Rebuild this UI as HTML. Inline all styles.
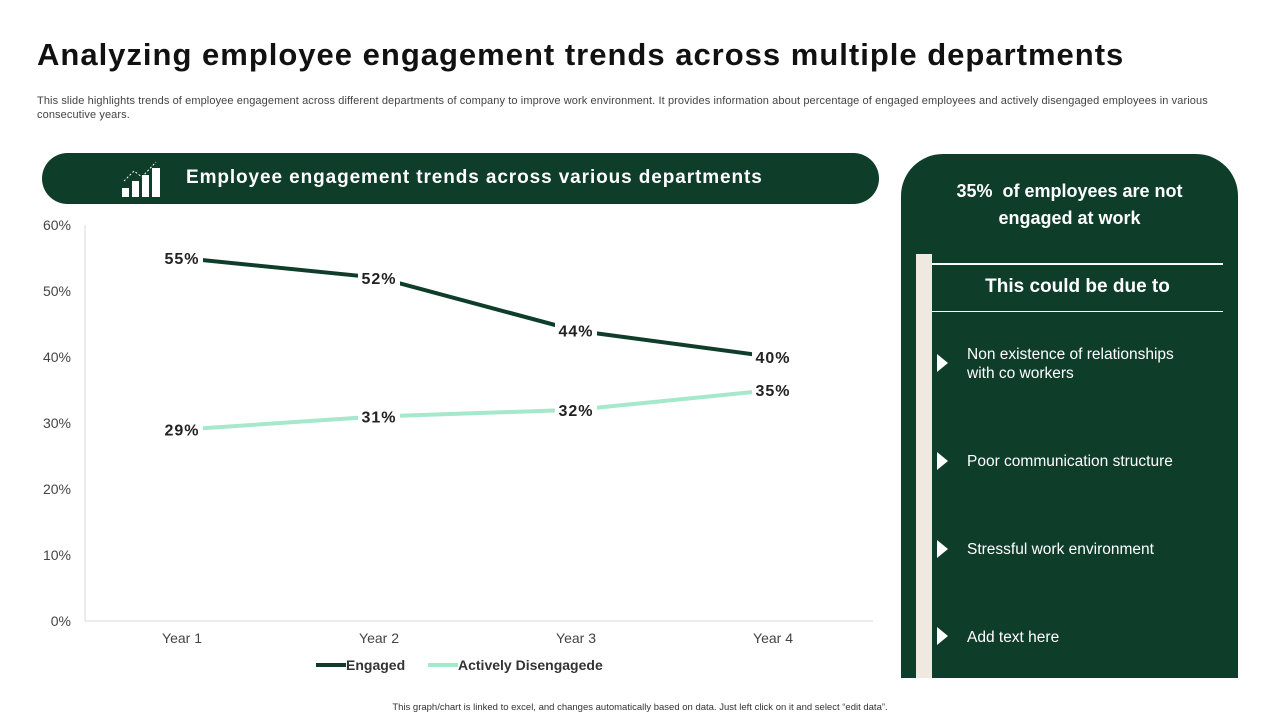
<!DOCTYPE html>
<html><head><meta charset="utf-8"><style>
body{margin:0;width:1280px;height:720px;background:#fff;font-family:"Liberation Sans",sans-serif;position:relative;overflow:hidden}
.abs{position:absolute}
h1{position:absolute;left:37px;top:37px;margin:0;font-size:31px;font-weight:bold;color:#111;letter-spacing:1.0px}
.sub{left:37px;top:94px;width:1225px;font-size:11px;color:#444;line-height:14px;letter-spacing:0.1px}
.hdr{left:42px;top:153px;width:837px;height:51px;background:#0e3d29;border-radius:26px}
.hdr span{position:absolute;left:144px;top:14px;color:#fff;font-size:19px;font-weight:bold;letter-spacing:0.9px}
.panel{left:901px;top:154px;width:337px;height:524px;background:#0e3d29;border-radius:42px 42px 0 0}
.item{position:absolute;left:66px;color:#fff;font-size:15.5px;line-height:19px}
.tri{position:absolute;left:36px;width:0;height:0;border-top:9px solid transparent;border-bottom:9px solid transparent;border-left:11px solid #fff}
</style></head><body>
<h1>Analyzing employee engagement trends across multiple departments</h1>
<div class="abs sub">This slide highlights trends of employee engagement across different departments of company to improve work environment. It provides information about percentage of engaged employees and actively disengaged employees in various consecutive years.</div>
<div class="abs hdr">
<svg class="abs" style="left:78px;top:6px" width="46" height="40">
<rect x="2" y="29" width="7" height="9" fill="#fff"/><rect x="12" y="22" width="7" height="16" fill="#fff"/><rect x="22" y="16" width="7" height="22" fill="#fff"/><rect x="32" y="9" width="8" height="29" fill="#fff"/>
<polyline points="4,22 14,12 22,18 36,3" fill="none" stroke="#fff" stroke-width="1" stroke-dasharray="2,2"/></svg>
<span>Employee engagement trends across various departments</span></div>
<svg id="chart" class="abs" style="left:0;top:0" width="900" height="700"></svg>
<div class="abs panel">
<div class="abs" style="left:0;top:24px;width:337px;text-align:center;color:#fff;font-size:18px;font-weight:bold;line-height:27px">35%&nbsp; of employees are not<br>engaged at work</div>
<div class="abs" style="left:15px;top:100px;width:16px;height:424px;background:#efe9e1"></div>
<div class="abs" style="left:31px;top:109px;width:291px;height:2px;background:#fff"></div>
<div class="abs" style="left:31px;top:122px;width:291px;text-align:center;color:#fff;font-size:19px;font-weight:bold">This could be due to</div>
<div class="abs" style="left:31px;top:157px;width:291px;height:1px;background:#fff"></div>
<div class="tri" style="top:200px"></div><div class="item" style="top:191px">Non existence of relationships<br>with co workers</div>
<div class="tri" style="top:298px"></div><div class="item" style="top:298px">Poor communication structure</div>
<div class="tri" style="top:386px"></div><div class="item" style="top:386px">Stressful work environment</div>
<div class="tri" style="top:473px"></div><div class="item" style="top:474px">Add text here</div>
</div>
<div class="abs" style="left:0;top:702px;width:1280px;text-align:center;font-size:9.5px;color:#333">This graph/chart is linked to excel, and changes automatically based on data. Just left click on it and select “edit data”.</div>
<script>
const categories=["Year 1","Year 2","Year 3","Year 4"];
const engaged=[55,52,44,40];
const disengaged=[29,31,32,35];
const yTicks=[0,10,20,30,40,50,60];
const NS="http://www.w3.org/2000/svg";
const svg=document.getElementById('chart');
const x=i=>182+i*197, y=v=>621-v*6.6;
function mk(t,a){const e=document.createElementNS(NS,t);for(const k in a)e.setAttribute(k,a[k]);svg.appendChild(e);return e;}
let ax=mk('line',{x1:85,y1:225,x2:85,y2:621,stroke:'#d9d9d9'});


let bx=mk('line',{x1:85,y1:621,x2:873,y2:621,stroke:'#d9d9d9'});


yTicks.forEach(v=>{const t=mk('text',{x:71,y:y(v)+5,'text-anchor':'end','font-size':14,fill:'#444'});t.textContent=v+'%';

});
categories.forEach((c,i)=>{const t=mk('text',{x:x(i),y:643,'text-anchor':'middle','font-size':14,fill:'#444'});t.textContent=c;

});
function series(d,col,name){
const p=mk('polyline',{points:d.map((v,i)=>x(i)+','+y(v)).join(' '),fill:'none',stroke:col,'stroke-width':4});


d.forEach((v,i)=>{mk('rect',{x:x(i)-21,y:y(v)-11,width:42,height:22,fill:'#fff'});
const t=mk('text',{x:x(i),y:y(v)+6,'text-anchor':'middle','font-size':16,'font-weight':'bold',fill:'#222','letter-spacing':1});t.textContent=v+'%';

});}
series(engaged,'#0e3d29','engaged');
series(disengaged,'#a6e8cb','disengaged');
[['Engaged','#0e3d29',316],['Actively Disengagede','#a6e8cb',428]].forEach(([n,c,lx])=>{
const l=mk('line',{x1:lx,y1:665,x2:lx+30,y2:665,stroke:c,'stroke-width':4});


const t=mk('text',{x:lx+30,y:670,'font-size':14,'font-weight':'bold',fill:'#333'});t.textContent=n;

});
</script>
</body></html>
